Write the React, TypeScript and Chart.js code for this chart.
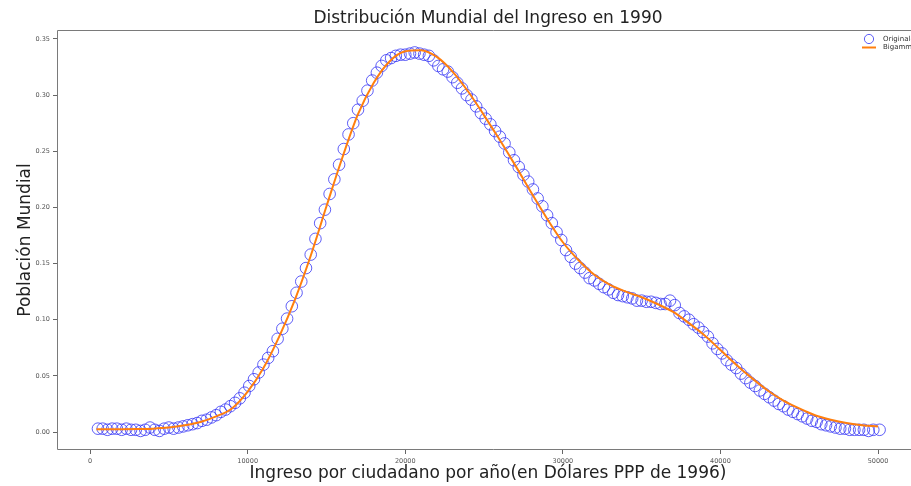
import React, { useEffect, useRef } from "react";
import Chart from "chart.js/auto";

// Observed income distribution (USD PPP 1996) and population share
const incomeUsd = [
  500, 800, 1100, 1400, 1700, 2000, 2300, 2600, 2900, 3200, 3500, 3800, 4100, 4400, 4700,
  5000, 5300, 5600, 5900, 6200, 6500, 6800, 7100, 7400, 7700, 8000, 8300, 8600, 8900, 9200,
  9500, 9800, 10100, 10400, 10700, 11000, 11300, 11600, 11900, 12200, 12500, 12800, 13100,
  13400, 13700, 14000, 14300, 14600, 14900, 15200, 15500, 15800, 16100, 16400, 16700, 17000,
  17300, 17600, 17900, 18200, 18500, 18800, 19100, 19400, 19700, 20000, 20300, 20600, 20900,
  21200, 21500, 21800, 22100, 22400, 22700, 23000, 23300, 23600, 23900, 24200, 24500, 24800,
  25100, 25400, 25700, 26000, 26300, 26600, 26900, 27200, 27500, 27800, 28100, 28400, 28700,
  29000, 29300, 29600, 29900, 30200, 30500, 30800, 31100, 31400, 31700, 32000, 32300, 32600,
  32900, 33200, 33500, 33800, 34100, 34400, 34700, 35000, 35300, 35600, 35900, 36200, 36500,
  36800, 37100, 37400, 37700, 38000, 38300, 38600, 38900, 39200, 39500, 39800, 40100, 40400,
  40700, 41000, 41300, 41600, 41900, 42200, 42500, 42800, 43100, 43400, 43700, 44000, 44300,
  44600, 44900, 45200, 45500, 45800, 46100, 46400, 46700, 47000, 47300, 47600, 47900, 48200,
  48500, 48800, 49100, 49400, 49700, 50100,
];
const populationShare = [
  0.003, 0.003, 0.002, 0.003, 0.003, 0.002, 0.003, 0.002, 0.002, 0.001, 0.002, 0.004, 0.002, 0.001, 0.003,
  0.004, 0.003, 0.004, 0.005, 0.006, 0.007, 0.008, 0.010, 0.011, 0.013, 0.015, 0.018, 0.020, 0.023, 0.026,
  0.030, 0.035, 0.041, 0.047, 0.053, 0.060, 0.066, 0.072, 0.083, 0.092, 0.101, 0.112, 0.124,
  0.134, 0.146, 0.158, 0.172, 0.186, 0.198, 0.212, 0.225, 0.238, 0.252, 0.265, 0.275, 0.287,
  0.295, 0.304, 0.313, 0.320, 0.326, 0.331, 0.333, 0.335, 0.336, 0.336, 0.337, 0.338, 0.337,
  0.336, 0.335, 0.331, 0.326, 0.323, 0.321, 0.316, 0.311, 0.306, 0.300, 0.296, 0.290, 0.284,
  0.279, 0.274, 0.268, 0.263, 0.257, 0.249, 0.242, 0.236, 0.229, 0.223, 0.216, 0.208, 0.201,
  0.193, 0.186, 0.178, 0.171, 0.162, 0.156, 0.150, 0.146, 0.142, 0.137, 0.135, 0.132, 0.129,
  0.127, 0.124, 0.122, 0.121, 0.120, 0.119, 0.117, 0.117, 0.116, 0.116, 0.115, 0.114, 0.114,
  0.117, 0.113, 0.106, 0.103, 0.100, 0.096, 0.093, 0.089, 0.085, 0.079, 0.074, 0.070, 0.064,
  0.060, 0.057, 0.052, 0.048, 0.044, 0.041, 0.037, 0.034, 0.031, 0.028, 0.025, 0.023, 0.020,
  0.018, 0.016, 0.014, 0.012, 0.010, 0.009, 0.007, 0.006, 0.005, 0.004, 0.003, 0.003, 0.002,
  0.002, 0.002, 0.002, 0.001, 0.002, 0.002,
];

// Bigamma fitted curve
const fitIncome = [
  400, 1000, 2000, 3000, 4000, 5000, 6000, 7000, 8000, 9000, 10000, 11000, 12000, 13000, 14000,
  15000, 16000, 17000, 18000, 19000, 20000, 21000, 22000, 23000, 24000, 25000, 26000, 27000,
  28000, 29000, 30000, 31000, 32000, 33000, 34000, 35000, 36000, 37000, 38000, 39000, 40000,
  41000, 42000, 43000, 44000, 45000, 46000, 47000, 48000, 49000, 50000,
];
const fitShare = [
  0.0025, 0.0025, 0.0025, 0.0026, 0.003, 0.004, 0.006, 0.009, 0.014, 0.021, 0.036, 0.057, 0.085,
  0.118, 0.157, 0.201, 0.244, 0.283, 0.311, 0.330, 0.339, 0.340, 0.334, 0.321, 0.303, 0.282,
  0.260, 0.237, 0.213, 0.190, 0.169, 0.153, 0.140, 0.131, 0.125, 0.120, 0.114, 0.107, 0.097,
  0.086, 0.073, 0.060, 0.048, 0.037, 0.028, 0.021, 0.015, 0.011, 0.008, 0.006, 0.005,
];

const xTickValues = [0, 10000, 20000, 30000, 40000, 50000];
const yTickValues = [0, 0.05, 0.1, 0.15, 0.2, 0.25, 0.3, 0.35];

const titleText = "Distribución Mundial del Ingreso en 1990";
const xLabel = "Ingreso por ciudadano por año(en Dólares PPP de 1996)";
const yLabel = "Población Mundial";
const seriesNames = ["Originales", "Bigamma"];

const FONT = '"DejaVu Sans", sans-serif';
const POINT_COLOR = "rgba(50, 50, 245, 0.78)";
const LINE_COLOR = "#ff7f0e";

// the canvas is wider than the view so the plot's right edge falls outside it
const CANVAS_W = 930;
const VIEW_W = 911;
const PLOT = { left: 57, top: 30, right: 919, bottom: 450 };

const decorations = {
  id: "decorations",
  afterDraw(chart: any) {
    const { ctx, chartArea } = chart;
    const cx = (PLOT.left + PLOT.right) / 2;
    ctx.save();
    // keep the strip at the visible edge clean
    ctx.fillStyle = "#fff";
    ctx.fillRect(VIEW_W - 8, chartArea.top + 2, CANVAS_W - VIEW_W + 8, chartArea.bottom - chartArea.top - 4);

    ctx.strokeStyle = "#7a7a7a";
    ctx.lineWidth = 1;
    ctx.beginPath();
    ctx.moveTo(CANVAS_W, chartArea.top + 0.5);
    ctx.lineTo(chartArea.left + 0.5, chartArea.top + 0.5);
    ctx.lineTo(chartArea.left + 0.5, chartArea.bottom - 0.5);
    ctx.lineTo(CANVAS_W, chartArea.bottom - 0.5);
    ctx.stroke();

    ctx.fillStyle = "#222";
    ctx.textAlign = "center";
    ctx.textBaseline = "alphabetic";
    ctx.font = `17px ${FONT}`;
    ctx.fillText(titleText, cx, 23);
    ctx.fillText(xLabel, cx, 478);

    ctx.save();
    ctx.translate(30, (chartArea.top + chartArea.bottom) / 2);
    ctx.rotate(-Math.PI / 2);
    ctx.fillText(yLabel, 0, 0);
    ctx.restore();

    // legend
    const lx = 869;
    const ly = chartArea.top + 9;
    ctx.beginPath();
    ctx.arc(lx, ly, 4.6, 0, Math.PI * 2);
    ctx.strokeStyle = POINT_COLOR;
    ctx.lineWidth = 1;
    ctx.stroke();
    ctx.beginPath();
    ctx.moveTo(lx - 7, ly + 8.5);
    ctx.lineTo(lx + 7, ly + 8.5);
    ctx.strokeStyle = LINE_COLOR;
    ctx.lineWidth = 2;
    ctx.stroke();
    ctx.fillStyle = "#333";
    ctx.textAlign = "left";
    ctx.textBaseline = "middle";
    ctx.font = `7px ${FONT}`;
    ctx.fillText(seriesNames[0], lx + 14, ly);
    ctx.fillText(seriesNames[1], lx + 14, ly + 8.5);
    ctx.restore();
  },
};

export default function App() {
  const canvasRef = useRef<HTMLCanvasElement>(null);

  useEffect(() => {
    const canvas = canvasRef.current;
    if (!canvas) return;
    const chart = new Chart(canvas, {
      type: "scatter",
      data: {
        datasets: [
          {
            label: seriesNames[1],
            data: fitIncome.map((x, i) => ({ x, y: fitShare[i] })),
            showLine: true,
            borderColor: LINE_COLOR,
            borderWidth: 2,
            pointRadius: 0,
            cubicInterpolationMode: "monotone",
            order: 0,
          },
          {
            label: seriesNames[0],
            data: incomeUsd.map((x, i) => ({ x, y: populationShare[i] })),
            pointStyle: "circle",
            pointRadius: 5.8,
            borderWidth: 1,
            borderColor: POINT_COLOR,
            backgroundColor: "rgba(0,0,0,0)",
            order: 1,
          },
        ],
      },
      options: {
        responsive: false,
        animation: false,
        devicePixelRatio: 1,
        layout: { padding: { top: PLOT.top, right: CANVAS_W - PLOT.right, left: 0, bottom: 0 } },
        plugins: { legend: { display: false }, tooltip: { enabled: false }, title: { display: false } },
        scales: {
          x: {
            type: "linear",
            min: -2100,
            max: 52600,
            afterFit: (s: any) => { s.height = 486 - PLOT.bottom; s.paddingLeft = 0; s.paddingRight = 0; },
            afterBuildTicks: (s: any) => { s.ticks = xTickValues.map((value) => ({ value })); },
            border: { display: false },
            grid: { drawOnChartArea: false, tickLength: 4, tickColor: "#666", drawTicks: true },
            ticks: {
              maxRotation: 0,
              autoSkip: false,
              padding: 3,
              color: "#555",
              font: { family: FONT, size: 6.5 },
              callback: (v: any) => String(v),
            },
          },
          y: {
            type: "linear",
            min: -0.016,
            max: 0.358,
            afterFit: (s: any) => { s.width = PLOT.left; },
            afterBuildTicks: (s: any) => { s.ticks = yTickValues.map((value) => ({ value })); },
            border: { display: false },
            grid: { drawOnChartArea: false, tickLength: 4, tickColor: "#666", drawTicks: true },
            ticks: {
              autoSkip: false,
              padding: 3,
              color: "#555",
              font: { family: FONT, size: 6.5 },
              callback: (v: any) => Number(v).toFixed(2),
            },
          },
        },
      },
      plugins: [decorations],
    });
    return () => chart.destroy();
  }, []);

  return (
    <div style={{ position: "fixed", left: 0, top: 0, width: VIEW_W, height: 486, overflow: "hidden", background: "#fff" }}>
      <canvas ref={canvasRef} width={CANVAS_W} height={486} style={{ width: CANVAS_W, height: 486, display: "block" }} />
    </div>
  );
}
